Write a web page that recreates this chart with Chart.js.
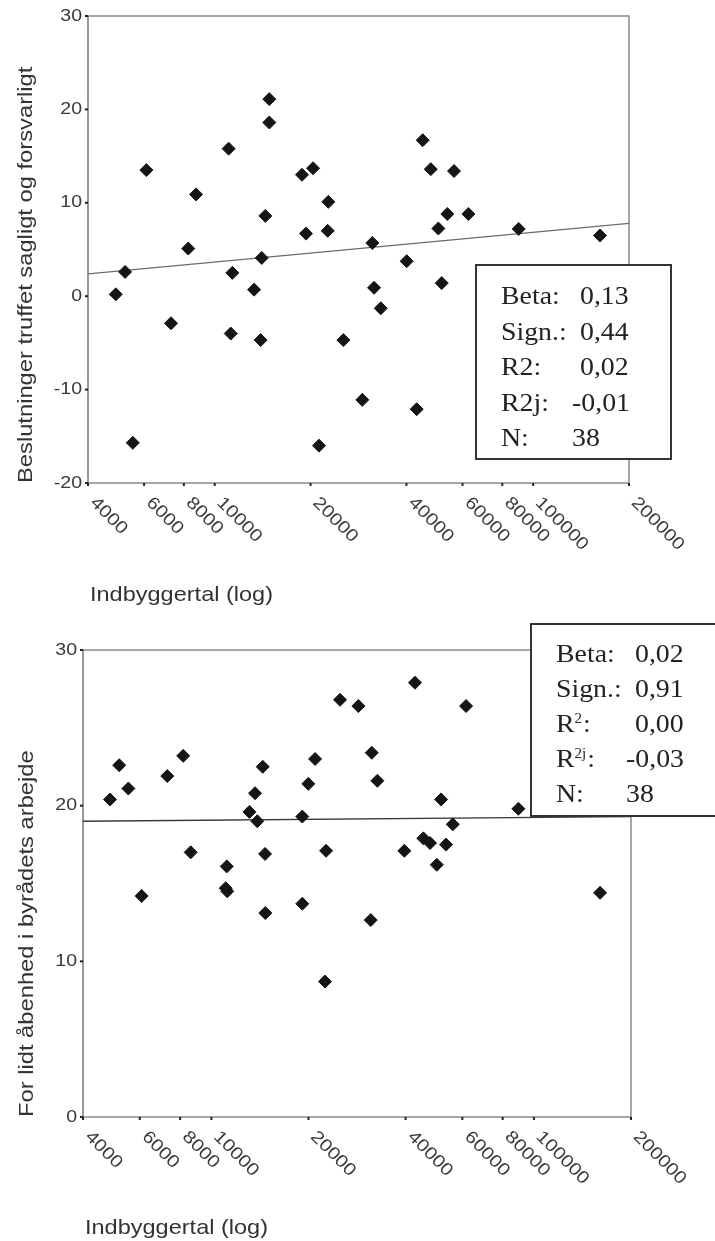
<!DOCTYPE html>
<html>
<head>
<meta charset="utf-8">
<script src="https://cdn.jsdelivr.net/npm/chart.js@4.4.0/dist/chart.umd.min.js"></script>
<style>
  html, body { margin: 0; padding: 0; background: #fff; }
  body { width: 715px; height: 1241px; position: relative; overflow: hidden; }
  canvas { position: absolute; left: 0; }
  #topChart { top: 0; }
  #bottomChart { top: 620px; }
</style>
</head>
<body>
<canvas id="topChart" width="715" height="620"></canvas>
<canvas id="bottomChart" width="715" height="621"></canvas>
<script>
// shared x axis (population, log)
const xTicks = [4000, 6000, 8000, 10000, 20000, 40000, 60000, 80000, 100000, 200000];
const xTitle = "Indbyggertal (log)";

// top panel
const topYTicks = [-20, -10, 0, 10, 20, 30];
const topYTitle = "Beslutninger truffet sagligt og forsvarligt";
const topPopulation = [4890, 5230, 5530, 6100, 7290, 8260, 8740, 11060, 11230, 11360,
  13290, 13940, 14050, 14420, 14840, 14840, 18800, 20360, 19350, 21260,
  22640, 22740, 25350, 29080, 31260, 31650, 33220, 40080, 43090, 45000,
  47700, 50390, 51630, 53770, 56430, 62600, 90100, 162200];
const topScore = [0.2, 2.6, -15.7, 13.5, -2.9, 5.1, 10.9, 15.8, -4.0, 2.5,
  0.7, -4.7, 4.1, 8.6, 21.1, 18.6, 13.0, 13.7, 6.7, -16.0,
  7.0, 10.1, -4.7, -11.1, 5.7, 0.9, -1.3, 3.75, -12.1, 16.7,
  13.6, 7.25, 1.4, 8.8, 13.4, 8.8, 7.2, 6.5];
const topFitX = [4000, 200000];
const topFitY = [2.4, 7.8];
const topStatLabels = [["Beta:"], ["Sign.:"], ["R2:"], ["R2j:"], ["N:"]];
const topStatValues = ["0,13", "0,44", "0,02", "-0,01", "38"];

// bottom panel
const bottomYTicks = [0, 10, 20, 30];
const bottomYTitle = "For lidt åbenhed i byrådets arbejde";
const bottomPopulation = [4850, 5180, 5530, 6080, 7300, 8180, 8630, 11160, 11080, 11200,
  13660, 14430, 13120, 13880, 14670, 14700, 19140, 19140, 19980, 20970,
  22680, 25060, 28560, 22510, 42800, 61610, 31430, 32710, 51560, 89520,
  56040, 45430, 47640, 53400, 39660, 50000, 160400, 31200];
const bottomScore = [20.4, 22.6, 21.1, 14.2, 21.9, 23.2, 17.0, 16.1, 14.7, 14.5,
  20.8, 22.5, 19.6, 19.0, 16.9, 13.1, 19.3, 13.7, 21.4, 23.0,
  17.1, 26.8, 26.4, 8.7, 27.9, 26.4, 23.4, 21.6, 20.4, 19.8,
  18.8, 17.9, 17.6, 17.5, 17.1, 16.2, 14.4, 12.65];
const bottomFitX = [4000, 200000];
const bottomFitY = [19.0, 19.3];
const bottomStatLabels = [["Beta:"], ["Sign.:"], ["R", "2", ":"], ["R", "2j", ":"], ["N:"]];
const bottomStatValues = ["0,02", "0,91", "0,00", "-0,03", "38"];

const SANS = '"Liberation Sans", Arial, sans-serif';
const SERIF = '"Liberation Serif", "Times New Roman", serif';

function drawText(ctx, text, x, y, o) {
  ctx.save();
  ctx.translate(x, y);
  if (o.rotate) ctx.rotate(o.rotate);
  ctx.scale(o.stretch || 1, 1);
  ctx.font = `${o.size}px ${o.family || SANS}`;
  ctx.fillStyle = o.color || "#333";
  ctx.textAlign = o.align || "left";
  ctx.textBaseline = o.baseline || "alphabetic";
  ctx.fillText(text, 0, 0);
  const w = ctx.measureText(text).width * (o.stretch || 1);
  ctx.restore();
  return w;
}

function toPoints(xs, ys) {
  return xs.map((x, i) => ({ x, y: ys[i] }));
}

const panelPlugin = {
  id: "panel",
  beforeDatasetsDraw(chart, args, opts) {
    const { ctx, chartArea: a } = chart;
    const xs = chart.scales.x;
    const ys = chart.scales.y;
    ctx.save();
    // frame
    ctx.strokeStyle = "#8a8a8a";
    ctx.lineWidth = 1.5;
    ctx.beginPath();
    ctx.moveTo(a.left, a.top);
    ctx.lineTo(a.right, a.top);
    ctx.lineTo(a.right, a.bottom);
    ctx.lineTo(a.left, a.bottom);
    ctx.stroke();
    ctx.strokeStyle = "#555";
    ctx.lineWidth = 1.2;
    ctx.beginPath();
    ctx.moveTo(a.left, a.top);
    ctx.lineTo(a.left, a.bottom);
    ctx.stroke();
    // tick marks
    ctx.strokeStyle = "#222";
    ctx.lineWidth = 2;
    opts.yTicks.forEach((v) => {
      const py = ys.getPixelForValue(v);
      ctx.beginPath();
      ctx.moveTo(a.left - 3, py);
      ctx.lineTo(a.left, py);
      ctx.stroke();
    });
    xTicks.forEach((v) => {
      const px = xs.getPixelForValue(v);
      ctx.beginPath();
      ctx.moveTo(px, a.bottom);
      ctx.lineTo(px, a.bottom + 3);
      ctx.stroke();
    });
    ctx.restore();

    // tick labels
    opts.yTicks.forEach((v) => {
      drawText(ctx, String(v), a.left - opts.yLabelGap, ys.getPixelForValue(v), {
        size: 17, stretch: 1.15, align: "right", baseline: "middle", color: "#3a3a3a",
      });
    });
    xTicks.forEach((v) => {
      drawText(ctx, String(v), xs.getPixelForValue(v) + 11, a.bottom + 11, {
        size: 17.5, stretch: 1.15, rotate: Math.PI / 4, baseline: "top", color: "#3a3a3a",
      });
    });

    // axis titles
    drawText(ctx, opts.yTitle, opts.yTitleX, a.bottom, {
      size: 21, stretch: 1.13, rotate: -Math.PI / 2, color: "#333",
    });
    drawText(ctx, xTitle, opts.xTitleX, opts.xTitleY, {
      size: 21, stretch: 1.12, color: "#333",
    });
  },
  afterDatasetsDraw(chart, args, opts) {
    const { ctx } = chart;
    const b = opts.box;
    ctx.save();
    ctx.fillStyle = "#fff";
    ctx.fillRect(b.left, b.top, b.width, b.height);
    ctx.strokeStyle = "#333";
    ctx.lineWidth = 2;
    ctx.strokeRect(b.left, b.top, b.width, b.height);
    ctx.restore();
    const font = { size: 26, stretch: 1.07, family: SERIF, color: "#222" };
    opts.statLabels.forEach((parts, i) => {
      const y = b.firstLine + i * b.lineStep;
      let x = b.labelX;
      x += drawText(ctx, parts[0], x, y, font);
      if (parts.length > 1) {
        x += drawText(ctx, parts[1], x, y - 9, { ...font, size: 14 });
        drawText(ctx, parts[2], x + 1, y, font);
      }
      drawText(ctx, opts.statValues[i], b.valueX[i], y, font);
    });
  },
};

function makePanel(canvasId, cfg) {
  return new Chart(document.getElementById(canvasId), {
    type: "scatter",
    data: {
      datasets: [
        {
          label: "Kommuner",
          data: toPoints(cfg.population, cfg.score),
          pointStyle: "rectRot",
          pointRadius: 6.5,
          pointBorderWidth: 1,
          backgroundColor: "#151515",
          borderColor: "#151515",
          order: 0,
        },
        {
          label: "Regression",
          data: toPoints(cfg.fitX, cfg.fitY),
          showLine: true,
          pointRadius: 0,
          borderColor: cfg.fitColor,
          borderWidth: 1.3,
          order: 1,
        },
      ],
    },
    options: {
      responsive: false,
      animation: false,
      layout: { padding: cfg.padding },
      plugins: {
        legend: { display: false },
        tooltip: { enabled: false },
        panel: cfg.panel,
      },
      scales: {
        x: { type: "logarithmic", min: 4000, max: 200000, display: false },
        y: { type: "linear", min: cfg.yMin, max: cfg.yMax, display: false },
      },
    },
    plugins: [panelPlugin],
  });
}

makePanel("topChart", {
  population: topPopulation,
  score: topScore,
  fitX: topFitX,
  fitY: topFitY,
  fitColor: "#6a6a6a",
  yMin: -20,
  yMax: 30,
  padding: { left: 88, right: 86, top: 16, bottom: 137 },
  panel: {
    yTicks: topYTicks,
    yTitle: topYTitle,
    yTitleX: 32,
    yLabelGap: 6,
    xTitleX: 90,
    xTitleY: 601,
    statLabels: topStatLabels,
    statValues: topStatValues,
    box: {
      left: 476, top: 265, width: 195, height: 194,
      labelX: 501, firstLine: 304, lineStep: 35.5,
      valueX: [580, 580, 580, 572, 572],
    },
  },
});

makePanel("bottomChart", {
  population: bottomPopulation,
  score: bottomScore,
  fitX: bottomFitX,
  fitY: bottomFitY,
  fitColor: "#3a3a3a",
  yMin: 0,
  yMax: 30,
  padding: { left: 83, right: 84, top: 30, bottom: 124 },
  panel: {
    yTicks: bottomYTicks,
    yTitle: bottomYTitle,
    yTitleX: 33,
    yLabelGap: 6,
    xTitleX: 85,
    xTitleY: 614,
    statLabels: bottomStatLabels,
    statValues: bottomStatValues,
    box: {
      left: 531, top: 4, width: 200, height: 192,
      labelX: 556, firstLine: 42, lineStep: 35,
      valueX: [635, 635, 635, 626, 626],
    },
  },
});
</script>
</body>
</html>
